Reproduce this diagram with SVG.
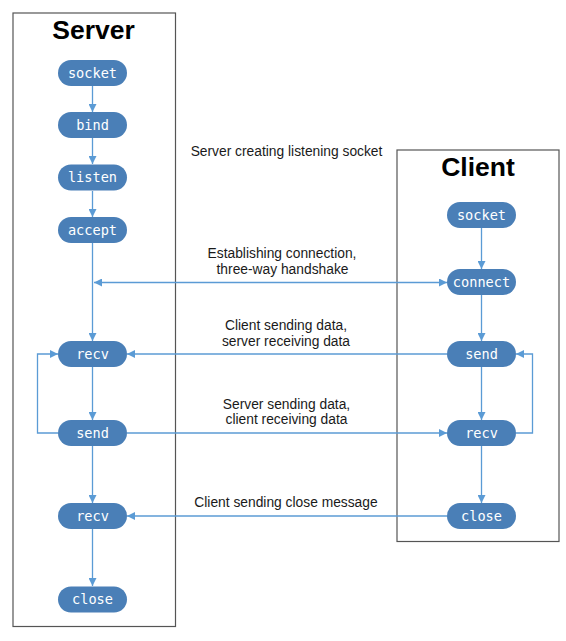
<svg xmlns="http://www.w3.org/2000/svg" width="566" height="641" viewBox="0 0 566 641">
<style>
.lane{fill:none;stroke:#555;stroke-width:1.2}
.title{font-family:"Liberation Sans",Arial,sans-serif;font-weight:bold;font-size:26.5px;fill:#000;text-anchor:middle}
.node rect{fill:#4a7fb7}
.node text{font-family:"DejaVu Sans Mono","Liberation Mono",monospace;font-size:13.6px;fill:#fff;text-anchor:middle}
.edge{fill:none;stroke:#5b9bd5;stroke-width:1.3}
.lbl{font-family:"Liberation Sans",Arial,sans-serif;font-size:13.8px;fill:#1a1a1a;text-anchor:middle}
</style>
<defs>
<marker id="ah" viewBox="0 0 10 10" refX="10" refY="5" markerWidth="9" markerHeight="8" markerUnits="userSpaceOnUse" orient="auto-start-reverse">
<path d="M0,0 L10,5 L0,10 z" fill="#5b9bd5"/>
</marker>
</defs>
<rect width="566" height="641" fill="#fff"/>
<rect class="lane" x="13" y="13" width="162.5" height="613.5"/>
<rect class="lane" x="397" y="150" width="162" height="391.5"/>
<text class="title" x="93.5" y="39">Server</text>
<text class="title" x="478" y="176">Client</text>

<g id="connectors">
<line class="edge" x1="92.5" y1="86" x2="92.5" y2="112" marker-end="url(#ah)"/>
<line class="edge" x1="92.5" y1="138" x2="92.5" y2="164" marker-end="url(#ah)"/>
<line class="edge" x1="92.5" y1="191" x2="92.5" y2="217" marker-end="url(#ah)"/>
<line class="edge" x1="92.5" y1="243" x2="92.5" y2="341" marker-end="url(#ah)"/>
<line class="edge" x1="92.5" y1="367" x2="92.5" y2="420" marker-end="url(#ah)"/>
<line class="edge" x1="92.5" y1="446" x2="92.5" y2="503" marker-end="url(#ah)"/>
<line class="edge" x1="92.5" y1="529" x2="92.5" y2="586" marker-end="url(#ah)"/>
<path class="edge" d="M58,433 H37.5 V354 H58" marker-end="url(#ah)"/>
<line class="edge" x1="481.5" y1="228" x2="481.5" y2="269" marker-end="url(#ah)"/>
<line class="edge" x1="481.5" y1="295" x2="481.5" y2="341" marker-end="url(#ah)"/>
<line class="edge" x1="481.5" y1="367" x2="481.5" y2="420" marker-end="url(#ah)"/>
<line class="edge" x1="481.5" y1="446" x2="481.5" y2="503" marker-end="url(#ah)"/>
<path class="edge" d="M516,433 H532.5 V354 H516" marker-end="url(#ah)"/>
<line class="edge" x1="94" y1="282.5" x2="447" y2="282.5" marker-start="url(#ah)" marker-end="url(#ah)"/>
<line class="edge" x1="447" y1="354" x2="127" y2="354" marker-end="url(#ah)"/>
<line class="edge" x1="127" y1="433" x2="447" y2="433" marker-end="url(#ah)"/>
<line class="edge" x1="447" y1="516" x2="127" y2="516" marker-end="url(#ah)"/>
</g>

<g id="s_socket" class="node"><rect x="58" y="60" width="69" height="26" rx="13"/><text x="92.5" y="77.5">socket</text></g>
<g id="s_bind" class="node"><rect x="58" y="112" width="69" height="26" rx="13"/><text x="92.5" y="129.5">bind</text></g>
<g id="s_listen" class="node"><rect x="58" y="164.5" width="69" height="26" rx="13"/><text x="92.5" y="182">listen</text></g>
<g id="s_accept" class="node"><rect x="58" y="217" width="69" height="26" rx="13"/><text x="92.5" y="234.5">accept</text></g>
<g id="s_recv1" class="node"><rect x="58" y="341" width="69" height="26" rx="13"/><text x="92.5" y="358.5">recv</text></g>
<g id="s_send" class="node"><rect x="58" y="420" width="69" height="26" rx="13"/><text x="92.5" y="437.5">send</text></g>
<g id="s_recv2" class="node"><rect x="58" y="503" width="69" height="26" rx="13"/><text x="92.5" y="520.5">recv</text></g>
<g id="s_close" class="node"><rect x="58" y="586.5" width="69" height="26" rx="13"/><text x="92.5" y="604">close</text></g>

<g id="c_socket" class="node"><rect x="447" y="202" width="69" height="26" rx="13"/><text x="481.5" y="219.5">socket</text></g>
<g id="c_connect" class="node"><rect x="447" y="269" width="69" height="26" rx="13"/><text x="481.5" y="286.5">connect</text></g>
<g id="c_send" class="node"><rect x="447" y="341" width="69" height="26" rx="13"/><text x="481.5" y="358.5">send</text></g>
<g id="c_recv" class="node"><rect x="447" y="420" width="69" height="26" rx="13"/><text x="481.5" y="437.5">recv</text></g>
<g id="c_close" class="node"><rect x="447" y="503" width="69" height="26" rx="13"/><text x="481.5" y="520.5">close</text></g>

<g id="labels">
<text class="lbl" x="286.5" y="156">Server creating listening socket</text>
<text class="lbl" x="282" y="258">Establishing connection,</text>
<text class="lbl" x="282.5" y="273.5">three-way handshake</text>
<text class="lbl" x="286" y="330">Client sending data,</text>
<text class="lbl" x="286" y="345.5">server receiving data</text>
<text class="lbl" x="286.5" y="408.5">Server sending data,</text>
<text class="lbl" x="286.5" y="424">client receiving data</text>
<text class="lbl" x="286" y="506.5">Client sending close message</text>
</g>
</svg>
